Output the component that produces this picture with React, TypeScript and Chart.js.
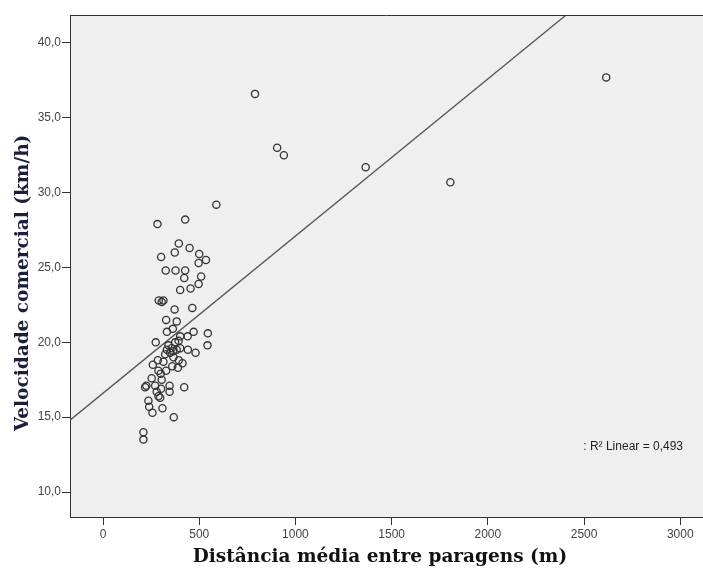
import React, { useEffect, useRef } from "react";
import { Chart, registerables } from "chart.js";

Chart.register(...registerables);

// Mean distance between stops (m) for each route
const distanceM = [
  790, 905, 940, 1365, 1805, 2615,
  589, 283, 427, 394, 450, 373, 302, 500, 535, 497,
  326, 377, 427, 422, 510, 497, 455, 401, 290, 305,
  314, 372, 464, 328, 383, 332, 363, 401, 440, 471,
  545, 543, 274, 441, 481, 332, 357, 383, 401, 375,
  393, 349, 323, 413, 394, 366, 314, 259, 285, 389,
  253, 288, 328, 305, 219, 225, 271, 279, 346, 346,
  422, 297, 288, 236, 240, 309, 257, 368, 210, 210,
  340, 365, 360, 300, 302,
];

// Commercial speed (km/h) for each route
const speedKmh = [
  36.6, 33.0, 32.5, 31.7, 30.7, 37.7,
  29.2, 27.9, 28.2, 26.6, 26.3, 26.0, 25.7, 25.9, 25.5, 25.3,
  24.8, 24.8, 24.8, 24.3, 24.4, 23.9, 23.6, 23.5, 22.8, 22.7,
  22.8, 22.2, 22.3, 21.5, 21.4, 20.7, 20.9, 20.4, 20.4, 20.7,
  20.6, 19.8, 20.0, 19.5, 19.3, 19.5, 19.6, 19.5, 19.6, 20.0,
  20.1, 19.3, 19.2, 18.6, 18.8, 19.0, 18.7, 18.5, 18.8, 18.3,
  17.6, 18.1, 18.1, 17.5, 17.0, 17.1, 17.1, 16.7, 17.1, 16.7,
  17.0, 16.3, 16.4, 16.1, 15.7, 15.6, 15.3, 15.0, 14.0, 13.5,
  19.8, 19.4, 18.4, 17.9, 16.9,
];

// Linear fit of speed on distance
const fitIntercept = 16.6;
const fitSlope = 0.0105;
const rSquaredLabel = ": R\u00b2 Linear = 0,493";

const xTicks = [0, 500, 1000, 1500, 2000, 2500, 3000];
const yTicks = [10, 15, 20, 25, 30, 35, 40];

const xMin = -171.5;
const xMax = 3118;
const yMin = 8.33;
const yMax = 41.87;

const xTitle = "Distância média entre paragens (m)";
const yTitle = "Velocidade comercial (km/h)";

const titleFontCss = "bold 18.5px 'DejaVu Serif', serif";

const plotFrame = {
  id: "plotFrame",
  beforeDraw(chart: any) {
    const { ctx, chartArea } = chart;
    ctx.save();
    ctx.fillStyle = "#efefef";
    ctx.fillRect(chartArea.left, chartArea.top, chartArea.right - chartArea.left, chartArea.bottom - chartArea.top);
    ctx.restore();
  },
  afterDraw(chart: any) {
    const { ctx, chartArea } = chart;
    ctx.save();
    // top edge of the plot frame
    ctx.strokeStyle = "#333";
    ctx.lineWidth = 1;
    ctx.beginPath();
    ctx.moveTo(chartArea.left, chartArea.top + 0.5);
    ctx.lineTo(chartArea.right, chartArea.top + 0.5);
    ctx.stroke();

    // fit annotation
    ctx.fillStyle = "#222";
    ctx.font = "12px 'Liberation Sans', Arial, sans-serif";
    ctx.textAlign = "right";
    ctx.textBaseline = "middle";
    ctx.fillText(rSquaredLabel, 683, 447);

    // axis titles
    ctx.font = titleFontCss;
    ctx.textAlign = "center";
    ctx.textBaseline = "middle";
    ctx.fillStyle = "#111";
    ctx.fillText(xTitle, 380, 557);

    ctx.translate(23, 283);
    ctx.rotate(-Math.PI / 2);
    ctx.fillStyle = "#1a1f3a";
    ctx.fillText(yTitle, 0, 0);
    ctx.restore();
  },
};

export default function App() {
  const canvasRef = useRef<HTMLCanvasElement | null>(null);

  useEffect(() => {
    if (!canvasRef.current) return;
    const points = distanceM.map((d, i) => ({ x: d, y: speedKmh[i] }));
    const fitLine = [
      { x: xMin, y: fitIntercept + fitSlope * xMin },
      { x: xMax, y: fitIntercept + fitSlope * xMax },
    ];
    const tickFont = { family: "'Liberation Sans', Arial, sans-serif", size: 12 };

    const chart = new Chart(canvasRef.current, {
      type: "scatter",
      data: {
        datasets: [
          {
            type: "line",
            data: fitLine,
            borderColor: "#555",
            borderWidth: 1.3,
            pointRadius: 0,
            fill: false,
            order: 2,
          } as any,
          {
            data: points,
            pointRadius: 3.6,
            pointBorderWidth: 1.3,
            pointBorderColor: "#333",
            pointBackgroundColor: "rgba(0,0,0,0)",
            order: 1,
          },
        ],
      },
      options: {
        responsive: false,
        animation: false,
        layout: { autoPadding: false, padding: { top: 15, right: 0, left: 0, bottom: 0 } },
        plugins: {
          legend: { display: false },
          tooltip: { enabled: false },
        },
        scales: {
          x: {
            type: "linear",
            min: xMin,
            max: xMax,
            afterBuildTicks: (scale: any) => {
              scale.ticks = xTicks.map((v) => ({ value: v }));
            },
            afterFit: (scale: any) => {
              scale.height = 59;
              scale.paddingLeft = 0;
              scale.paddingRight = 0;
            },
            grid: {
              drawOnChartArea: false,
              drawTicks: true,
              tickLength: 8,
              color: "#333",
            },
            border: { display: true, color: "#333", width: 1 },
            ticks: {
              font: tickFont,
              color: "#444",
              padding: 2,
              maxRotation: 0,
              autoSkip: false,
              callback: (v: any) => String(v),
            },
          },
          y: {
            type: "linear",
            min: yMin,
            max: yMax,
            afterBuildTicks: (scale: any) => {
              scale.ticks = yTicks.map((v) => ({ value: v }));
            },
            afterFit: (scale: any) => {
              scale.width = 70;
              scale.paddingTop = 0;
              scale.paddingBottom = 0;
            },
            grid: {
              drawOnChartArea: false,
              drawTicks: true,
              tickLength: 8,
              color: "#333",
            },
            border: { display: true, color: "#333", width: 1 },
            ticks: {
              font: tickFont,
              color: "#444",
              padding: 1,
              autoSkip: false,
              callback: (v: any) => Number(v).toFixed(1).replace(".", ","),
            },
          },
        },
      },
      plugins: [plotFrame],
    });
    return () => chart.destroy();
  }, []);

  return (
    <div style={{ position: "absolute", left: 0, top: 0, width: 703, height: 576, background: "#fff" }}>
      <canvas ref={canvasRef} width={703} height={576} style={{ display: "block" }} />
    </div>
  );
}
